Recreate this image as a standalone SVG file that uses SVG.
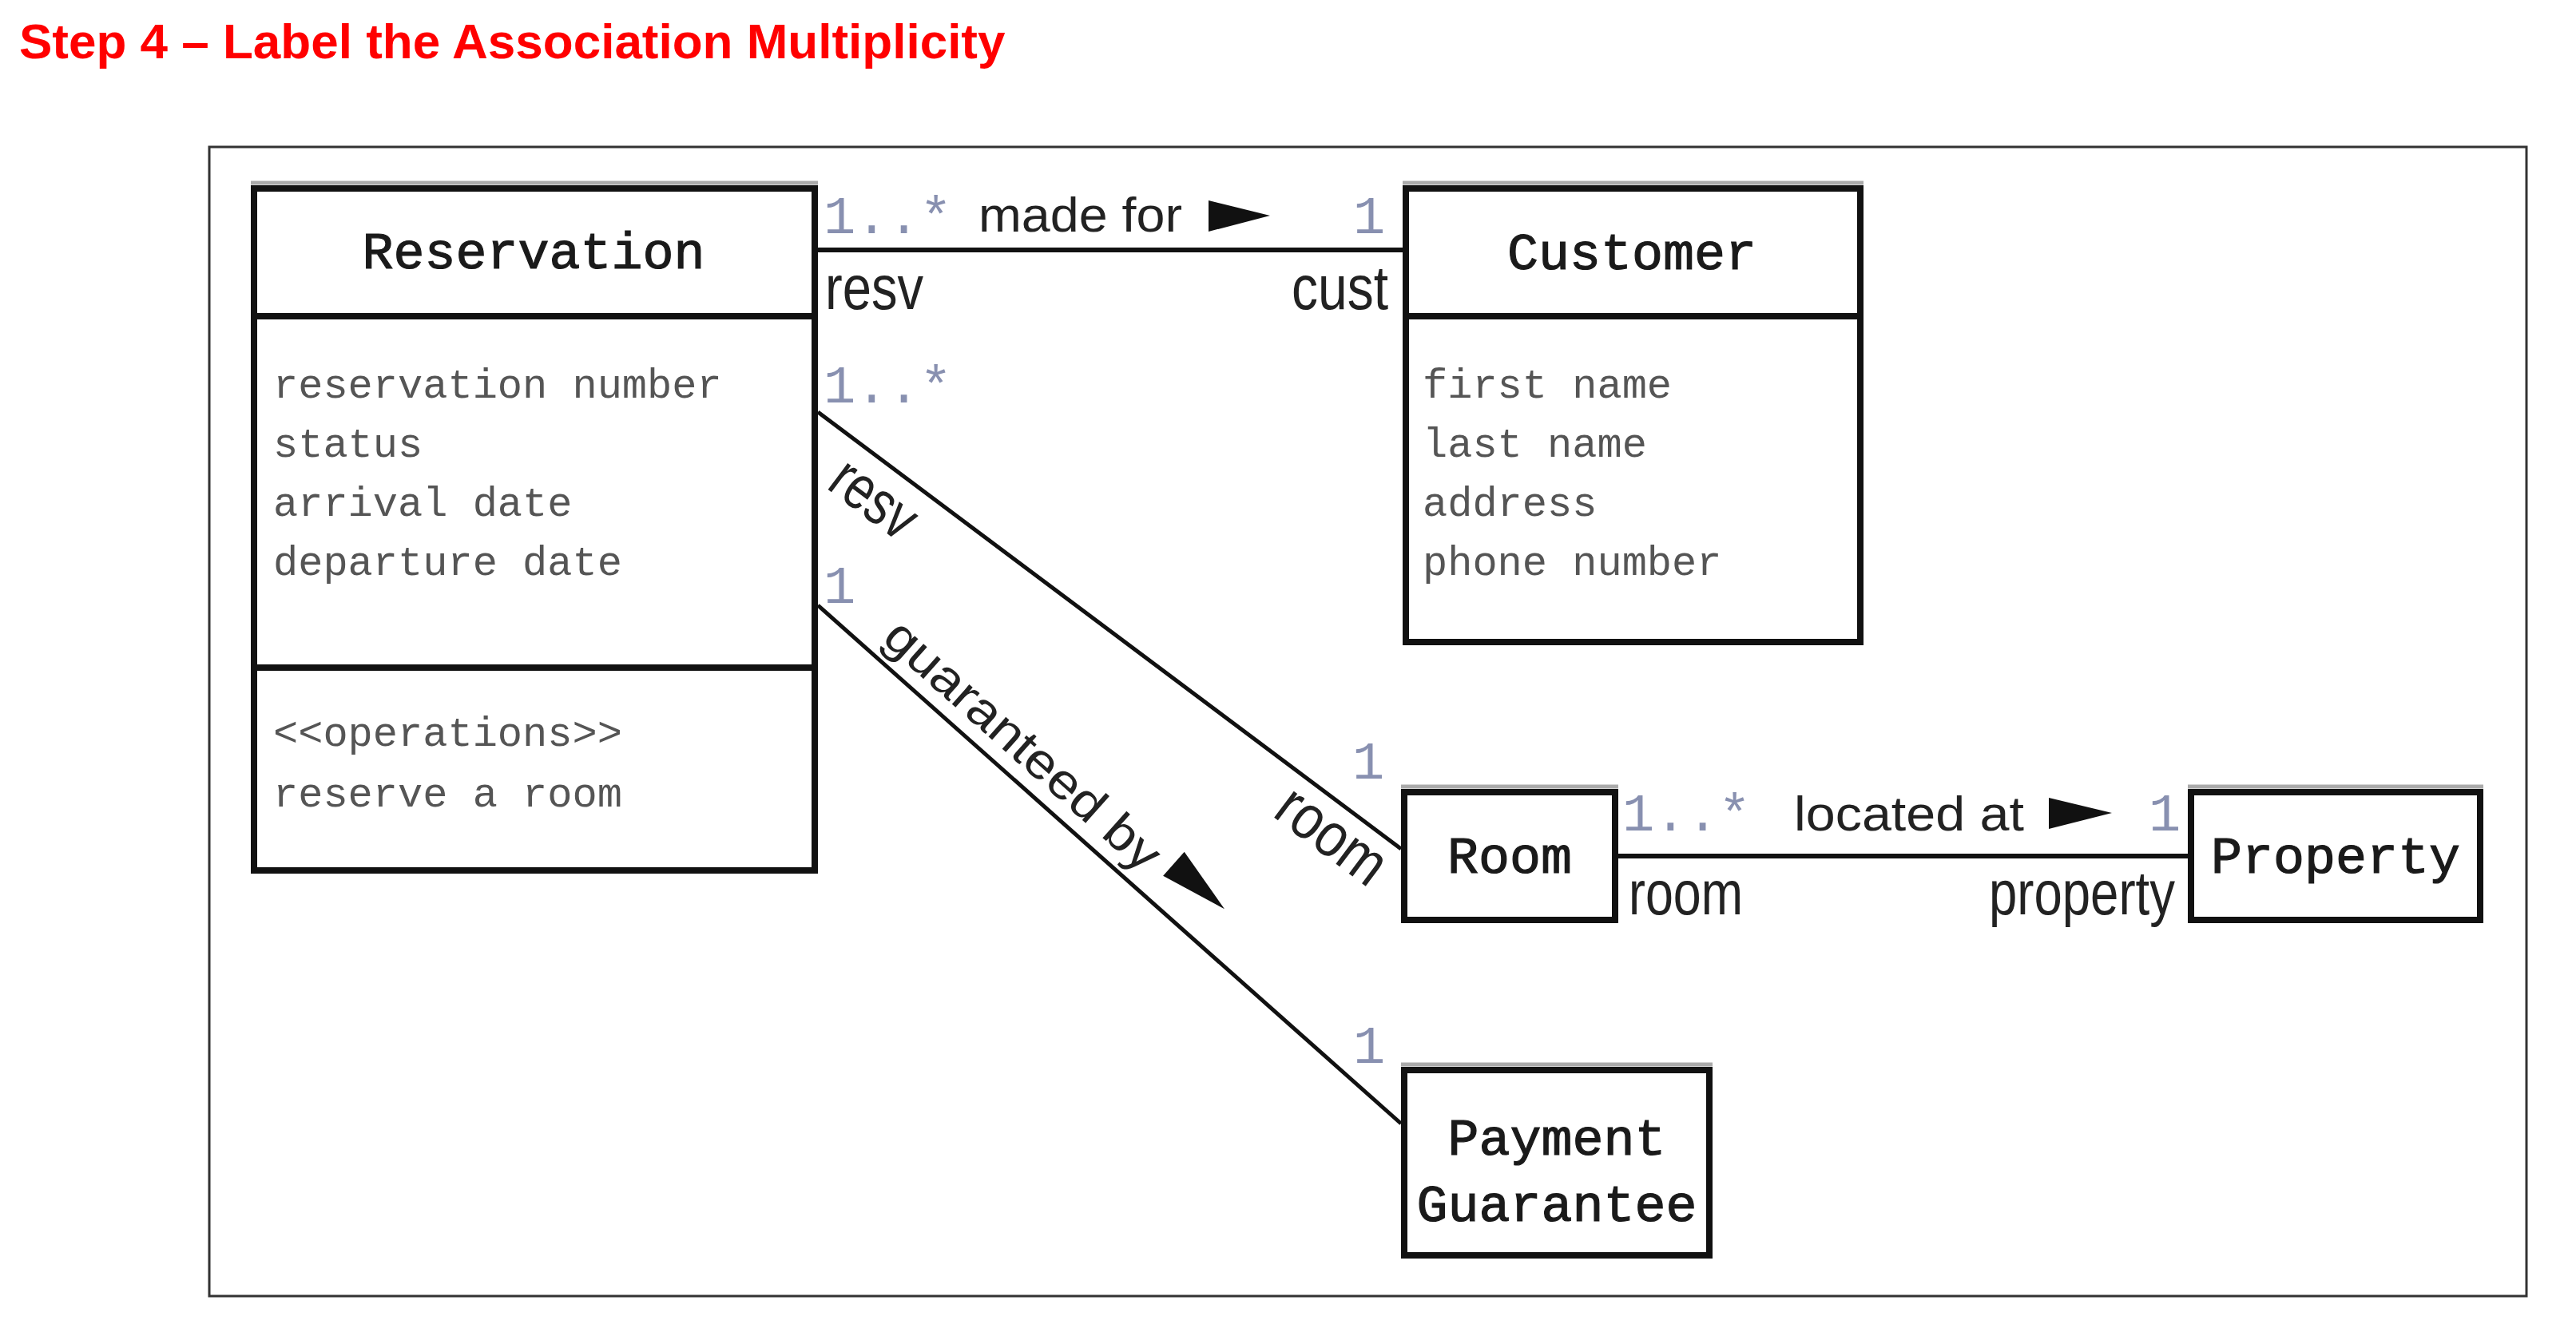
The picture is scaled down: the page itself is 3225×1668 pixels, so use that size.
<svg xmlns="http://www.w3.org/2000/svg" width="3225" height="1668" viewBox="0 0 3225 1668">
<style>
.bg{fill:#fff}
.frame{fill:none;stroke:#333;stroke-width:3}
.box{fill:#fff;stroke:#111;stroke-width:8}
.div{stroke:#111;stroke-width:8}
.shade{stroke:#aaa;stroke-width:5}
.hdr{font-family:"Liberation Mono","DejaVu Sans Mono",monospace;font-size:65px;fill:#1a1a1a;stroke:#1a1a1a;stroke-width:1.2;text-anchor:middle}
.attr{font-family:"Liberation Mono","DejaVu Sans Mono",monospace;font-size:52px;fill:#555}
.mult{font-family:"Liberation Mono","DejaVu Sans Mono",monospace;font-size:67px;fill:#8890b0}
.assoc{font-family:"Liberation Sans",Arial,sans-serif;font-size:62px;fill:#222}
.role{font-family:"Liberation Sans",Arial,sans-serif;font-size:78px;fill:#222}
.conn{stroke:#111;stroke-width:6;fill:none}
.dconn{stroke:#111;stroke-width:5;fill:none}
.tri{fill:#111}
.title{font-family:"Liberation Sans",Arial,sans-serif;font-size:62px;font-weight:bold;fill:#ff0000}
</style>
<rect class="bg" x="0" y="0" width="3225" height="1668"/>
<text class="title" x="24" y="73">Step 4 – Label the Association Multiplicity</text>
<rect class="frame" x="262" y="184" width="2901" height="1439"/>

<g id="connectors">
  <line class="conn" x1="1024" y1="313" x2="1756" y2="313"/>
  <line class="conn" x1="2026" y1="1072" x2="2739" y2="1072"/>
  <line class="dconn" x1="1024" y1="516" x2="1754" y2="1063"/>
  <line class="dconn" x1="1024" y1="758" x2="1754" y2="1407"/>
  <g id="assoc-made-for">
    <text class="mult" x="1031" y="292">1..*</text>
    <text class="assoc" x="1225" y="290" textLength="255" lengthAdjust="spacingAndGlyphs">made for</text>
    <polygon class="tri" points="1513,251 1513,290 1590,270"/>
    <text class="mult" x="1694" y="292">1</text>
    <text class="role" x="1033" y="387" textLength="123" lengthAdjust="spacingAndGlyphs">resv</text>
    <text class="role" x="1617" y="387" textLength="121" lengthAdjust="spacingAndGlyphs">cust</text>
  </g>
  <g id="assoc-located-at">
    <text class="mult" x="2031" y="1040">1..*</text>
    <text class="assoc" x="2246" y="1040" textLength="288" lengthAdjust="spacingAndGlyphs">located at</text>
    <polygon class="tri" points="2565,999 2565,1038 2644,1018"/>
    <text class="mult" x="2690" y="1040">1</text>
    <text class="role" x="2039" y="1145" textLength="143" lengthAdjust="spacingAndGlyphs">room</text>
    <text class="role" x="2490" y="1145" textLength="233" lengthAdjust="spacingAndGlyphs">property</text>
  </g>
  <g id="assoc-room">
    <text class="mult" x="1031" y="504">1..*</text>
    <text class="mult" x="1693" y="975">1</text>
    <g transform="translate(1024,516) rotate(36.84)">
      <text class="role" x="64" y="70" textLength="115" lengthAdjust="spacingAndGlyphs">resv</text>
      <text class="role" x="757" y="64" textLength="152" lengthAdjust="spacingAndGlyphs">room</text>
    </g>
  </g>
  <g id="assoc-guaranteed-by">
    <text class="mult" x="1031" y="755">1</text>
    <text class="mult" x="1694" y="1331">1</text>
    <g transform="translate(1024,758) rotate(41.64)">
      <text class="assoc" x="88" y="-19" textLength="440" lengthAdjust="spacingAndGlyphs">guaranteed by</text>
      <polygon class="tri" points="548,-74 548,-34 633,-54"/>
    </g>
  </g>
</g>

<g id="reservation">
  <line class="shade" x1="314" y1="229" x2="1024" y2="229"/>
  <rect class="box" x="318" y="236" width="702" height="854"/>
  <line class="div" x1="318" y1="396" x2="1020" y2="396"/>
  <line class="div" x1="318" y1="836" x2="1020" y2="836"/>
  <text class="hdr" x="668" y="336">Reservation</text>
  <text class="attr" x="342" y="498">reservation number</text>
  <text class="attr" x="342" y="572">status</text>
  <text class="attr" x="342" y="646">arrival date</text>
  <text class="attr" x="342" y="720">departure date</text>
  <text class="attr" x="342" y="934">&lt;&lt;operations&gt;&gt;</text>
  <text class="attr" x="342" y="1010">reserve a room</text>
</g>

<g id="customer">
  <line class="shade" x1="1756" y1="229" x2="2333" y2="229"/>
  <rect class="box" x="1760" y="236" width="569" height="568"/>
  <line class="div" x1="1760" y1="396" x2="2329" y2="396"/>
  <text class="hdr" x="2043" y="337">Customer</text>
  <text class="attr" x="1781" y="498">first name</text>
  <text class="attr" x="1781" y="572">last name</text>
  <text class="attr" x="1781" y="646">address</text>
  <text class="attr" x="1781" y="720">phone number</text>
</g>

<g id="room">
  <line class="shade" x1="1754" y1="985" x2="2026" y2="985"/>
  <rect class="box" x="1758" y="992" width="264" height="160"/>
  <text class="hdr" x="1890" y="1093">Room</text>
</g>

<g id="property">
  <line class="shade" x1="2739" y1="985" x2="3109" y2="985"/>
  <rect class="box" x="2743" y="992" width="362" height="160"/>
  <text class="hdr" x="2924" y="1093">Property</text>
</g>

<g id="payment-guarantee">
  <line class="shade" x1="1754" y1="1333" x2="2144" y2="1333"/>
  <rect class="box" x="1758" y="1340" width="382" height="232"/>
  <text class="hdr" x="1949" y="1446">Payment</text>
  <text class="hdr" x="1949" y="1529">Guarantee</text>
</g>
</svg>
